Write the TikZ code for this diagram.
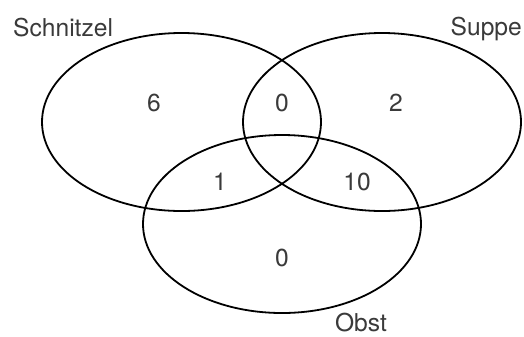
\documentclass[tikz,border=0pt]{standalone}
\usepackage{fontspec}
\setmainfont{TeX Gyre Heros}
\definecolor{txt}{HTML}{3A3A3A}
\begin{document}
\begin{tikzpicture}[x=1bp,y=-1bp,
  ring/.style={draw=black,line width=1.8bp},
  lbl/.style={text=txt,font=\fontsize{24.6bp}{28bp}\selectfont,inner sep=0pt},
  num/.style={lbl}]
\useasboundingbox (0,0) rectangle (524,336);
\draw[ring] (181.5,122) ellipse [x radius=139.5, y radius=89];
\draw[ring] (382,122) ellipse [x radius=139, y radius=89];
\draw[ring] (282,224) ellipse [x radius=139, y radius=89];
\node[lbl,anchor=base west] (schnitzel) at (13,36) {Schnitzel};
\node[lbl,anchor=base east] (suppe) at (522,35) {Suppe};
\node[lbl,anchor=base] (obst) at (361,331) {Obst};
\node[num] (n6) at (154,103) {6};
\node[num] (n0a) at (282,103) {0};
\node[num] (n2) at (396,103) {2};
\node[num] (n1) at (220,182) {1};
\node[num] (n10) at (357,182) {10};
\node[num] (n0b) at (282,258) {0};
\end{tikzpicture}
\end{document}
